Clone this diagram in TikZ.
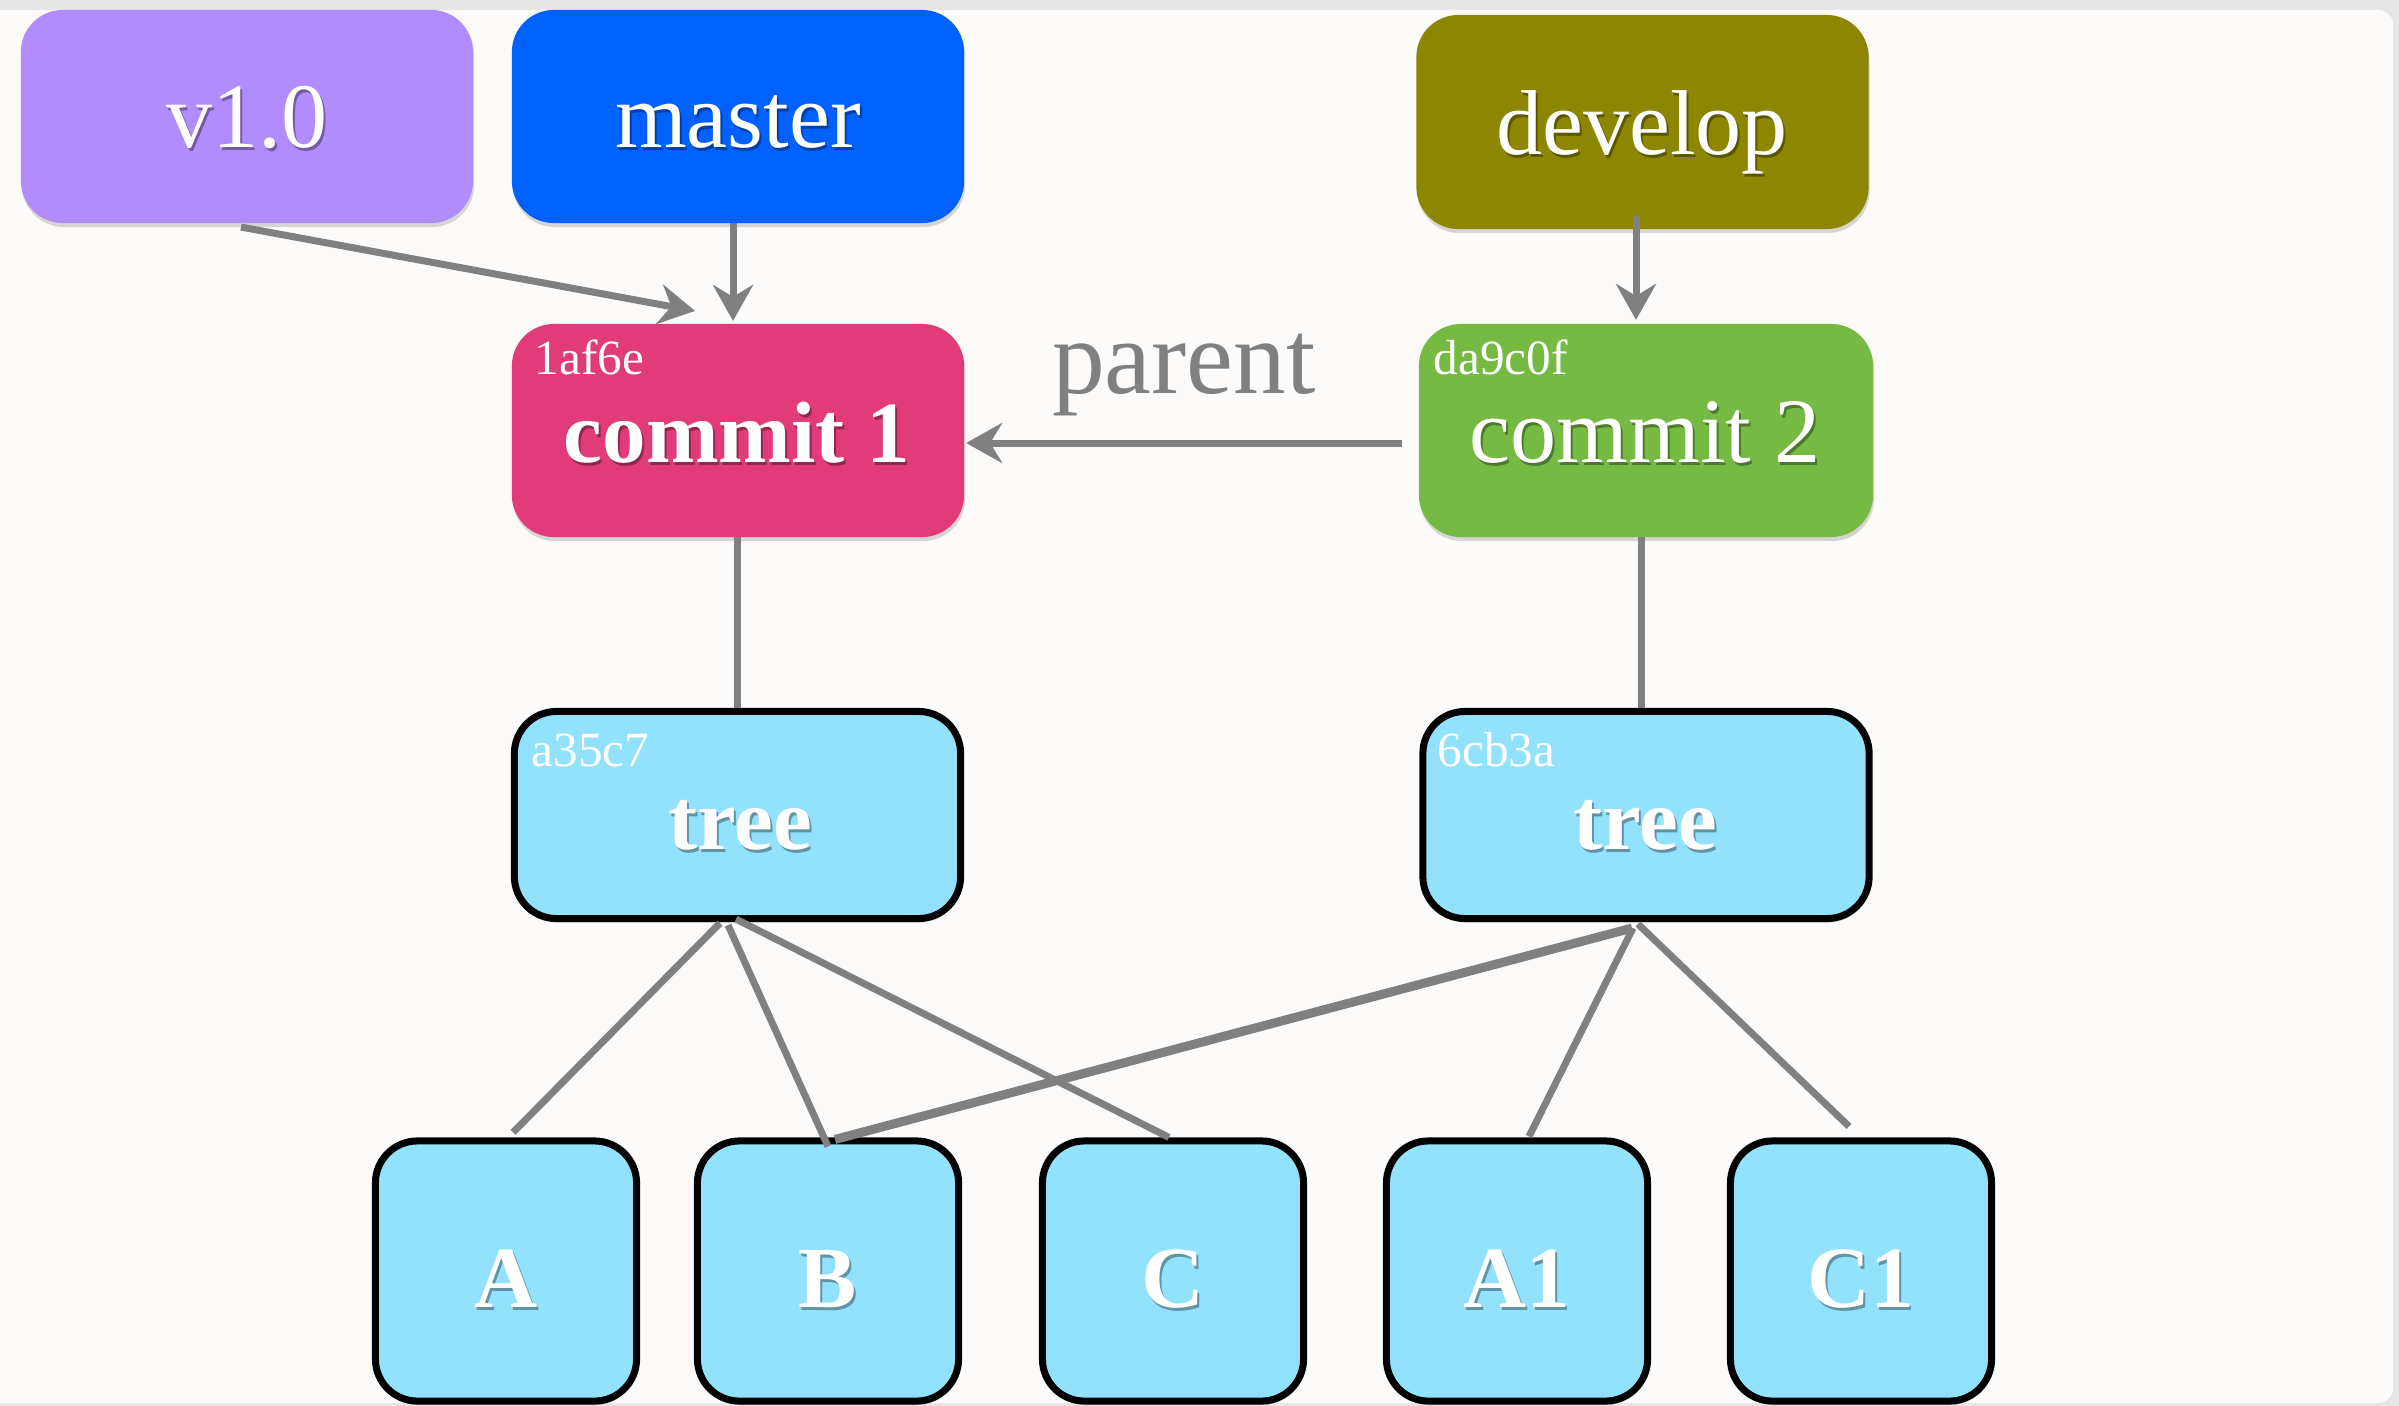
\documentclass[tikz,border=0pt]{standalone}
\usepackage{fontspec}
\setmainfont{Liberation Serif}
\usetikzlibrary{arrows.meta,calc,shadows}
\definecolor{cV}{HTML}{B18CFD}
\definecolor{cM}{HTML}{0061FE}
\definecolor{cD}{HTML}{8C8600}
\definecolor{cCa}{HTML}{E23B7A}
\definecolor{cCb}{HTML}{76BA43}
\definecolor{cL}{HTML}{93E2FD}
\definecolor{lgray}{HTML}{808080}
\definecolor{panel}{HTML}{FCFBF9}
\definecolor{framegray}{HTML}{E6E6E6}
\colorlet{shV}{cV!65!black}
\colorlet{shM}{cM!65!black}
\colorlet{shD}{cD!65!black}
\colorlet{shCa}{cCa!65!black}
\colorlet{shCb}{cCb!65!black}
\colorlet{shL}{cL!65!black}
\newcommand\shd[2]{\leavevmode\rlap{\kern0.02cm\raisebox{-0.035cm}{\textcolor{#1}{#2}}}#2}
\tikzset{
  boxshadow/.style={drop shadow={shadow xshift=0.01cm, shadow yshift=-0.04cm, opacity=0.15, fill=black}},
  tagbox/.style={rectangle, rounded corners=0.42cm, inner sep=0pt, outer sep=0pt,
    minimum width=4.52cm, minimum height=2.13cm, boxshadow},
  objbox/.style={rectangle, rounded corners=0.42cm, draw=black, line width=0.07cm, fill=cL,
    inner sep=0pt, minimum width=4.46cm, minimum height=2.07cm, boxshadow},
  leafbox/.style={objbox, minimum width=2.61cm, minimum height=2.6cm},
  big/.style={text=white, font=\fontsize{26.2pt}{30pt}\selectfont, inner sep=0pt, anchor=base},
  bigb/.style={text=white, font=\fontsize{24.8pt}{30pt}\selectfont\bfseries, inner sep=0pt, anchor=base},
  hash/.style={text=white, font=\fontsize{14pt}{16pt}\selectfont, inner sep=0pt, anchor=base west},
  conn/.style={draw=lgray, line width=0.07cm},
  thickconn/.style={draw=lgray, line width=0.09cm},
  arr/.style={conn, -{Stealth[length=0.36cm, width=0.4cm, inset=0.12cm]}},
}
\begin{document}
\begin{tikzpicture}[x=0.01cm, y=-0.01cm]
\useasboundingbox (0,0) rectangle (2399,1406);
\fill[framegray] (0,0) rectangle (2399,1406);
\fill[panel, rounded corners=0.15cm] (-40,10) rectangle (2393,1403);

% boxes
\node[tagbox, fill=cV] (v10) at (247,116.5) {};
\node[tagbox, fill=cM] (master) at (738,116.5) {};
\node[tagbox, fill=cD, minimum height=2.14cm] (develop) at (1642.5,122) {};
\node[tagbox, fill=cCa] (c1) at (738,430.5) {};
\node[tagbox, fill=cCb, minimum width=4.54cm] (c2) at (1646,430.5) {};
\node[objbox] (t1) at (737.5,815) {};
\node[objbox] (t2) at (1646,815) {};
\node[leafbox] (A) at (506,1271) {};
\node[leafbox] (B) at (828,1271) {};
\node[leafbox] (C) at (1173,1271) {};
\node[leafbox] (A1) at (1517,1271) {};
\node[leafbox] (C1) at (1861,1271) {};

% texts
\node[big] (v10t) at (247,147) {\shd{shV}{v1.0}};
\node[big] (mastert) at (738,147) {\shd{shM}{master}};
\node[big] (developt) at (1642,154) {\shd{shD}{develop}};
\node[bigb] (c1t) at (737,462) {\shd{shCa}{commit 1}};
\node[big] (c2t) at (1645,462) {\shd{shCb}{commit 2}};
\node[hash] (c1h) at (534,374) {1af6e};
\node[hash] (c2h) at (1433,374) {da9c0f};
\node[bigb] (t1t) at (740,849) {\shd{shL}{tree}};
\node[bigb] (t2t) at (1645,849) {\shd{shL}{tree}};
\node[hash] (t1h) at (531,766) {a35c7};
\node[hash] (t2h) at (1437,766) {6cb3a};
\node[bigb] (At) at (506,1307) {\shd{shL}{A}};
\node[bigb] (Bt) at (828,1307) {\shd{shL}{B}};
\node[bigb] (Ct) at (1173,1307) {\shd{shL}{C}};
\node[bigb] (A1t) at (1517,1307) {\shd{shL}{A1}};
\node[bigb] (C1t) at (1861,1307) {\shd{shL}{C1}};
\node[text=lgray, font=\fontsize{30pt}{34pt}\selectfont, inner sep=0pt, anchor=base] (parentt) at (1184,393) {parent};

% arrows
\draw[arr] ($(v10.south)+(-6,4)$) -- ($(c1.north)+(-43,-13)$);
\draw[arr] ($(master.south)+(-5,0)$) -- ($(c1.north)+(-5,-3)$);
\draw[arr] ($(develop.south)+(-6.5,-13)$) -- ($(c2.north)+(-10,-4)$);
\draw[arr] ($(c2.west)+(-17,12.5)$) -- ($(c1.east)+(2,12.5)$);

% links
\draw[conn] ($(c1.south)+(-1,0)$) -- ($(t1.north)+(-0.5,0)$);
\draw[conn] ($(c2.south)+(-5,0)$) -- ($(t2.north)+(-5,0)$);
\draw[conn] ($(t1.south)+(-17.5,1)$) -- ($(A.north)+(7,-5)$);
\draw[conn] ($(t1.south)+(-9.5,3)$) -- ($(B.north)+(0,9)$);
\draw[conn] ($(t1.south)+(-1.5,-3)$) -- ($(C.north)+(-4,0)$);
\draw[thickconn] ($(t2.south)+(-14,6)$) -- ($(B.north)+(7,2)$);
\draw[conn] ($(t2.south)+(-13,6)$) -- ($(A1.north)+(12,-1)$);
\draw[conn] ($(t2.south)+(-8,2)$) -- ($(C1.north)+(-12,-11)$);
\end{tikzpicture}
\end{document}
